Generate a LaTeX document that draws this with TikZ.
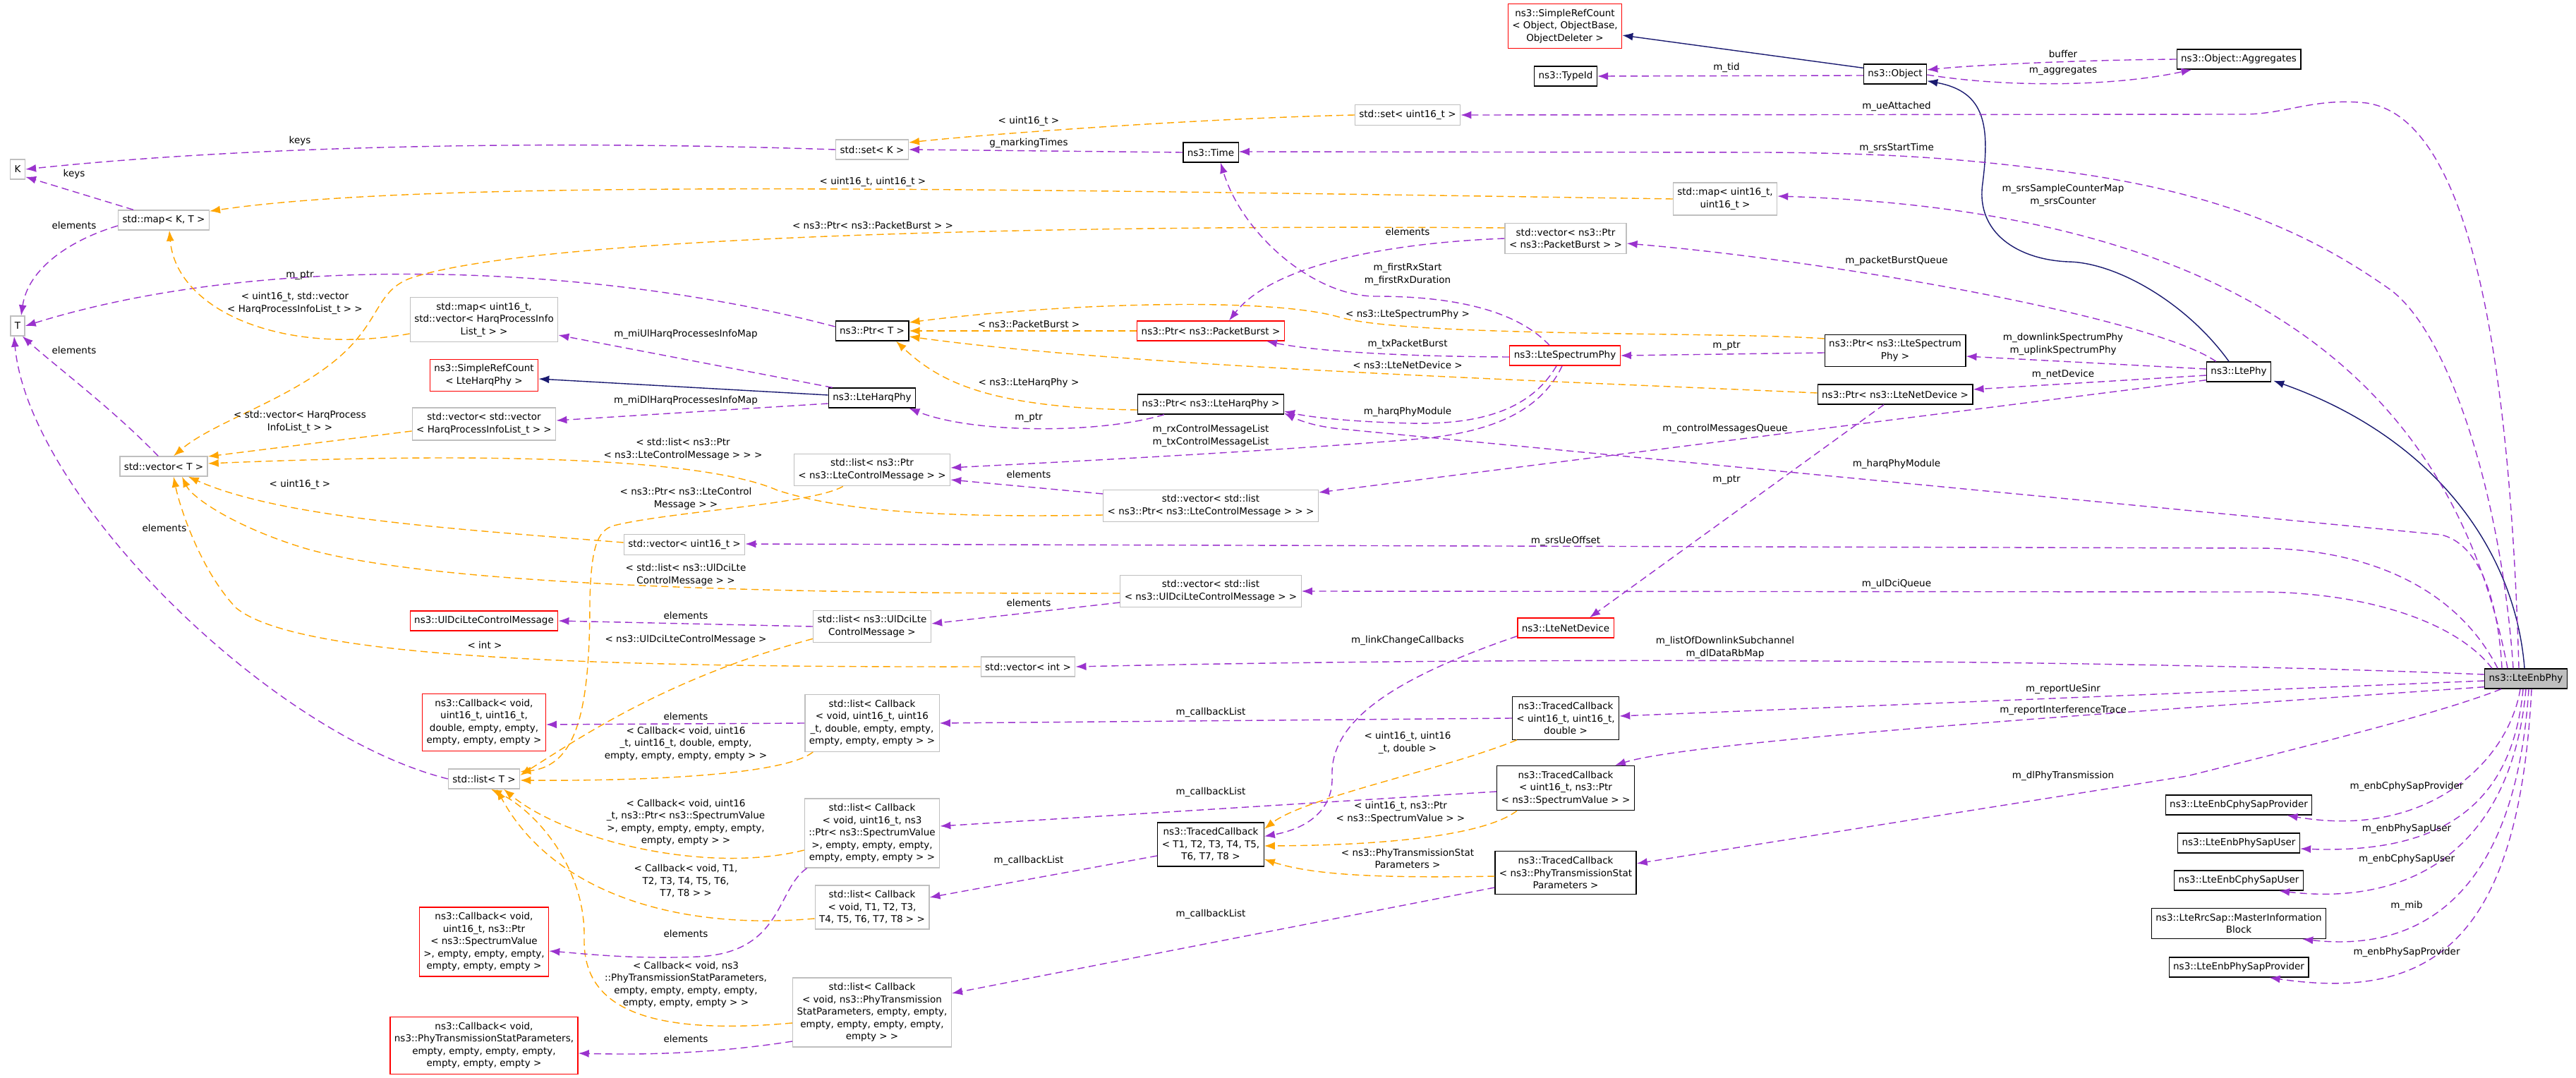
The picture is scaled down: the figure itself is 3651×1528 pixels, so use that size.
\documentclass[tikz,border=0pt]{standalone}
\usepackage{fontspec}
\setmainfont{DejaVu Sans}
\usetikzlibrary{arrows.meta,calc}
\definecolor{usecol}{HTML}{9A32CD}
\definecolor{tmplcol}{HTML}{FFA500}
\definecolor{inhcol}{HTML}{191970}
\definecolor{graycol}{HTML}{BFBFBF}
\definecolor{redcol}{HTML}{FF0000}

\tikzset{
  cls/.style={draw,line width=1.3pt,inner xsep=6pt,inner ysep=7.5pt,minimum height=28pt,
    align=center,font=\fontsize{13.5}{17.5}\selectfont},
  grayc/.style={cls,draw=graycol},
  blackc/.style={cls,draw=black},
  redc/.style={cls,draw=redcol},
  mainc/.style={cls,draw=black,fill=graycol},
  lbl/.style={inner sep=0pt,align=center,font=\fontsize{13.5}{17.5}\selectfont},
  usage/.style={draw=usecol,line width=1.4pt,dash pattern=on 10pt off 6pt,
    -{Latex[length=15pt,width=11pt]}},
  tmpl/.style={draw=tmplcol,line width=1.4pt,dash pattern=on 10pt off 6pt,
    -{Latex[length=15pt,width=11pt]}},
  inherit/.style={draw=inhcol,line width=1.4pt,-{Latex[length=15pt,width=11pt]}}
}

\begin{document}
\begin{tikzpicture}[x=1pt,y=-1pt]
\useasboundingbox (0,0) rectangle (3651,1528);

\node[grayc] (K) at (25,240) {K};
\node[grayc] (mapKT) at (232,312) {std::map< K, T >};
\node[grayc] (T) at (25,462) {T};
\node[grayc] (setK) at (1236,212) {std::set< K >};
\node[blackc] (ptrT) at (1236,469) {ns3::Ptr< T >};
\node[redc] (refObj) at (2218,37) {ns3::SimpleRefCount\\< Object, ObjectBase,\\ObjectDeleter >};
\node[blackc] (typeid) at (2219,108) {ns3::TypeId};
\node[grayc] (setU) at (1995,163) {std::set< uint16\_t >};
\node[blackc] (time) at (1716,216) {ns3::Time};
\node[grayc] (mapUU) at (2445,282) {std::map< uint16\_t,\\uint16\_t >};
\node[grayc] (vecPB) at (2219,338) {std::vector< ns3::Ptr\\< ns3::PacketBurst > >};
\node[redc] (ptrPB) at (1716,469) {ns3::Ptr< ns3::PacketBurst >};
\node[redc] (lsp) at (2218,504) {ns3::LteSpectrumPhy};
\node[blackc] (object) at (2686,105) {ns3::Object};
\node[blackc] (aggr) at (3173,84) {ns3::Object::Aggregates};
\node[blackc] (ptrLSP) at (2686,497) {ns3::Ptr< ns3::LteSpectrum\\Phy >};
\node[blackc] (ltephy) at (3173,527) {ns3::LtePhy};
\node[grayc] (mapUV) at (686,453) {std::map< uint16\_t,\\std::vector< HarqProcessInfo\\List\_t > >};
\node[redc] (refHarq) at (686,532) {ns3::SimpleRefCount\\< LteHarqPhy >};
\node[blackc] (harq) at (1236,564) {ns3::LteHarqPhy};
\node[grayc] (vecVH) at (686,601) {std::vector< std::vector\\< HarqProcessInfoList\_t > >};
\node[grayc] (vecT) at (232,661) {std::vector< T >};
\node[grayc] (vecU) at (970,772) {std::vector< uint16\_t >};
\node[redc] (uldci) at (686,880) {ns3::UlDciLteControlMessage};
\node[redc] (cbD) at (686,1024) {ns3::Callback< void,\\uint16\_t, uint16\_t,\\double, empty, empty,\\empty, empty, empty >};
\node[blackc] (ptrHarq) at (1716,573) {ns3::Ptr< ns3::LteHarqPhy >};
\node[grayc] (listLCM) at (1236,666) {std::list< ns3::Ptr\\< ns3::LteControlMessage > >};
\node[grayc] (vecLCM) at (1716,717) {std::vector< std::list\\< ns3::Ptr< ns3::LteControlMessage > > >};
\node[grayc] (vecUD) at (1716,838) {std::vector< std::list\\< ns3::UlDciLteControlMessage > >};
\node[grayc] (listUD) at (1236,888) {std::list< ns3::UlDciLte\\ControlMessage >};
\node[grayc] (vecInt) at (1457,945) {std::vector< int >};
\node[redc] (netdev) at (2219,890) {ns3::LteNetDevice};
\node[blackc] (ptrND) at (2686,559) {ns3::Ptr< ns3::LteNetDevice >};
\node[mainc] (enbphy) at (3580,962) {ns3::LteEnbPhy};
\node[grayc] (listT) at (686,1104) {std::list< T >};
\node[redc] (cbSV) at (686,1335) {ns3::Callback< void,\\uint16\_t, ns3::Ptr\\< ns3::SpectrumValue\\>, empty, empty, empty,\\empty, empty, empty >};
\node[redc] (cbPT) at (686,1482) {ns3::Callback< void,\\ns3::PhyTransmissionStatParameters,\\empty, empty, empty, empty,\\empty, empty, empty >};
\node[grayc] (lcbD) at (1236,1025) {std::list< Callback\\< void, uint16\_t, uint16\\\_t, double, empty, empty,\\empty, empty, empty > >};
\node[grayc] (lcbSV) at (1236,1181) {std::list< Callback\\< void, uint16\_t, ns3\\::Ptr< ns3::SpectrumValue\\>, empty, empty, empty,\\empty, empty, empty > >};
\node[grayc] (lcbT) at (1236,1286) {std::list< Callback\\< void, T1, T2, T3,\\T4, T5, T6, T7, T8 > >};
\node[grayc] (lcbPT) at (1236,1435) {std::list< Callback\\< void, ns3::PhyTransmission\\StatParameters, empty, empty,\\empty, empty, empty, empty,\\empty > >};
\node[blackc] (tcbT) at (1716,1197) {ns3::TracedCallback\\< T1, T2, T3, T4, T5,\\T6, T7, T8 >};
\node[blackc] (tcbD) at (2219,1018) {ns3::TracedCallback\\< uint16\_t, uint16\_t,\\double >};
\node[blackc] (tcbSV) at (2219,1117) {ns3::TracedCallback\\< uint16\_t, ns3::Ptr\\< ns3::SpectrumValue > >};
\node[blackc] (tcbPT) at (2219,1237) {ns3::TracedCallback\\< ns3::PhyTransmissionStat\\Parameters >};
\node[blackc] (cphyP) at (3173,1141) {ns3::LteEnbCphySapProvider};
\node[blackc] (phyU) at (3173,1195) {ns3::LteEnbPhySapUser};
\node[blackc] (cphyU) at (3173,1248) {ns3::LteEnbCphySapUser};
\node[blackc] (mib) at (3173,1309) {ns3::LteRrcSap::MasterInformation\\Block};
\node[blackc] (phyP) at (3173,1371) {ns3::LteEnbPhySapProvider};

\draw[usage] (setK.west) .. controls (700,196) and (300,212) .. (K.east) node[lbl] (l1) at (425,200) {keys};
\draw[usage] ($(mapKT.north west)+(22,0)$) -- ($(K.south east)+(0,-4)$) node[lbl] (l2) at (105,247) {keys};
\draw[usage] ($(mapKT.west)+(0,8)$) .. controls (100,340) and (40,380) .. ($(T.north)+(5,0)$) node[lbl] (l3) at (105,319) {elements};
\draw[usage] ($(vecT.north west)+(55,0)$) .. controls (160,580) and (80,520) .. ($(T.south east)+(-4,0)$) node[lbl] (l4) at (105,496) {elements};
\draw[usage] (listT.west) .. controls (380,1040) and (40,700) .. ($(T.south)+(-5,0)$) node[lbl] (l5) at (233,748) {elements};
\draw[usage] ($(ptrT.west)+(0,-6)$) .. controls (850,375) and (380,355) .. (T.east) node[lbl] (l6) at (425,390) {m\_ptr};
\draw[tmpl] (setU.west) .. controls (1700,168) and (1400,190) .. ($(setK.east)+(0,-10)$) node[lbl] (l7) at (1458,172) {< uint16\_t >};
\draw[usage] (time.west) -- (setK.east) node[lbl] (l8) at (1458,203) {g\_markingTimes};
\draw[tmpl] (mapUU.west) .. controls (1300,266) and (600,255) .. ($(mapKT.north east)+(0,2)$) node[lbl] (l9) at (1237,258) {< uint16\_t, uint16\_t >};
\draw[tmpl] ($(mapUV.west)+(0,20)$) .. controls (400,505) and (250,440) .. ($(mapKT.south)+(8,0)$) node[lbl] (l10) at (418,430) {< uint16\_t, std::vector\\< HarqProcessInfoList\_t > >};
\draw[tmpl] ($(vecPB.west)+(0,-15)$) .. controls (1500,318) and (750,335) .. (580,395) .. controls (530,415) and (540,460) .. (470,515) .. controls (400,570) and (300,600) .. ($(vecT.north)+(14,0)$) node[lbl] (l11) at (1237,319) {< ns3::Ptr< ns3::PacketBurst > >};
\draw[tmpl] ($(vecVH.west)+(0,10)$) -- ($(vecT.east)+(0,-14)$) node[lbl] (l12) at (425,598) {< std::vector< HarqProcess\\InfoList\_t > >};
\draw[tmpl] ($(vecLCM.west)+(0,13)$) .. controls (1300,735) and (1180,720) .. (1102,695) .. controls (1000,650) and (700,640) .. ($(vecT.east)+(0,-4)$) node[lbl] (l13) at (968,637) {< std::list< ns3::Ptr\\< ns3::LteControlMessage > > >};
\draw[tmpl] ($(vecU.west)+(0,-3)$) .. controls (650,750) and (400,735) .. ($(vecT.south east)+(-28,0)$) node[lbl] (l14) at (425,687) {< uint16\_t >};
\draw[tmpl] ($(vecUD.west)+(0,3)$) .. controls (1100,842) and (600,830) .. (425,775) .. controls (330,745) and (272,705) .. ($(vecT.south)+(26,0)$) node[lbl] (l15) at (972,815) {< std::list< ns3::UlDciLte\\ControlMessage > >};
\draw[tmpl] (vecInt.west) .. controls (800,946) and (420,930) .. (335,862) .. controls (285,810) and (255,720) .. ($(vecT.south)+(14,0)$) node[lbl] (l16) at (687,914) {< int >};
\draw[tmpl] ($(listLCM.south west)+(70,0)$) .. controls (1150,715) and (950,725) .. (870,745) .. controls (845,752) and (838,780) .. (836,850) .. controls (836,1000) and (820,1085) .. ($(listT.east)+(0,-10)$) node[lbl] (l17) at (972,707) {< ns3::Ptr< ns3::LteControl\\Message > >};
\draw[tmpl] ($(listUD.south west)+(0,-6)$) .. controls (950,960) and (830,1040) .. ($(listT.east)+(0,-5)$) node[lbl] (l18) at (972,907) {< ns3::UlDciLteControlMessage >};
\draw[tmpl] ($(lcbD.south west)+(12,0)$) .. controls (1110,1100) and (900,1107) .. ($(listT.east)+(0,2)$) node[lbl] (l19) at (972,1054) {< Callback< void, uint16\\\_t, uint16\_t, double, empty,\\empty, empty, empty, empty > >};
\draw[tmpl] ($(lcbSV.west)+(0,24)$) .. controls (1000,1240) and (800,1190) .. ($(listT.south)+(28,0)$) node[lbl] (l20) at (972,1166) {< Callback< void, uint16\\\_t, ns3::Ptr< ns3::SpectrumValue\\>, empty, empty, empty, empty,\\empty, empty > >};
\draw[tmpl] ($(lcbT.west)+(0,16)$) .. controls (950,1320) and (780,1260) .. ($(listT.south)+(18,0)$) node[lbl] (l21) at (972,1249) {< Callback< void, T1,\\T2, T3, T4, T5, T6,\\T7, T8 > >};
\draw[tmpl] ($(lcbPT.west)+(0,15)$) .. controls (900,1470) and (826,1420) .. (828,1330) .. controls (830,1230) and (760,1150) .. ($(listT.south)+(10,0)$) node[lbl] (l22) at (972,1396) {< Callback< void, ns3\\::PhyTransmissionStatParameters,\\empty, empty, empty, empty,\\empty, empty, empty > >};
\draw[usage] ($(vecUD.west)+(0,16)$) -- ($(listUD.east)+(0,-4)$) node[lbl] (l23) at (1458,854) {elements};
\draw[usage] (listUD.west) -- (uldci.east) node[lbl] (l24) at (972,872) {elements};
\draw[usage] (lcbD.west) -- ($(cbD.east)+(0,3)$) node[lbl] (l25) at (972,1015) {elements};
\draw[usage] ($(lcbSV.south west)+(4,0)$) .. controls (1100,1260) and (1110,1350) .. (990,1356) .. controls (900,1360) and (830,1352) .. ($(cbSV.east)+(0,13)$) node[lbl] (l26) at (972,1323) {elements};
\draw[usage] ($(lcbPT.west)+(0,41)$) .. controls (1000,1495) and (900,1495) .. ($(cbPT.east)+(0,11)$) node[lbl] (l27) at (972,1472) {elements};
\draw[usage] ($(vecLCM.west)+(0,-17)$) -- ($(listLCM.east)+(0,14)$) node[lbl] (l28) at (1458,672) {elements};
\draw[tmpl] (ptrPB.west) -- (ptrT.east) node[lbl] (l29) at (1458,459) {< ns3::PacketBurst >};
\draw[tmpl] ($(ptrLSP.west)+(0,-17)$) .. controls (2450,470) and (2000,478) .. (1900,450) .. controls (1800,420) and (1500,430) .. ($(ptrT.east)+(0,-12)$) node[lbl] (l30) at (1995,446) {< ns3::LteSpectrumPhy >};
\draw[tmpl] ($(ptrND.west)+(0,-2)$) .. controls (2200,540) and (1600,520) .. ($(ptrT.east)+(0,8)$) node[lbl] (l31) at (1995,517) {< ns3::LteNetDevice >};
\draw[tmpl] ($(ptrHarq.west)+(0,8)$) .. controls (1400,578) and (1330,540) .. ($(ptrT.south)+(34,0)$) node[lbl] (l32) at (1458,543) {< ns3::LteHarqPhy >};
\draw[usage] ($(ptrHarq.south west)+(38,0)$) .. controls (1560,615) and (1380,615) .. ($(harq.south east)+(-10,0)$) node[lbl] (l33) at (1458,592) {m\_ptr};
\draw[inherit] ($(harq.west)+(0,-4)$) -- ($(refHarq.east)+(0,5)$);
\draw[usage] ($(harq.north west)+(6,0)$) -- ($(mapUV.east)+(0,22)$) node[lbl] (l35) at (972,474) {m\_miUlHarqProcessesInfoMap};
\draw[usage] ($(harq.west)+(0,8)$) -- ($(vecVH.east)+(0,-5)$) node[lbl] (l36) at (972,568) {m\_miDlHarqProcessesInfoMap};
\draw[usage] (vecPB.west) .. controls (1950,345) and (1800,380) .. ($(ptrPB.north)+(26,0)$) node[lbl] (l37) at (1995,328) {elements};
\draw[usage] ($(lsp.north)+(-22,0)$) .. controls (2140,430) and (2030,420) .. (1950,420) .. controls (1860,420) and (1760,330) .. ($(time.south)+(14,0)$) node[lbl] (l38) at (1995,389) {m\_firstRxStart\\m\_firstRxDuration};
\draw[usage] ($(lsp.west)+(0,2)$) .. controls (1950,505) and (1850,495) .. ($(ptrPB.south east)+(-26,0)$) node[lbl] (l39) at (1995,488) {m\_txPacketBurst};
\draw[usage] ($(lsp.south)+(-12,0)$) .. controls (2170,580) and (2100,602) .. (2000,600) .. controls (1920,598) and (1860,592) .. ($(ptrHarq.east)+(0,10)$) node[lbl] (l40) at (1995,584) {m\_harqPhyModule};
\draw[usage] ($(lsp.south)+(-4,0)$) .. controls (2185,580) and (2120,612) .. (2012,622) .. controls (1800,640) and (1500,655) .. ($(listLCM.east)+(0,-3)$) node[lbl] (l41) at (1716,618) {m\_rxControlMessageList\\m\_txControlMessageList};
\draw[usage] ($(ptrND.south)+(-16,0)$) -- ($(netdev.north)+(34,0)$) node[lbl] (l42) at (2447,680) {m\_ptr};
\draw[usage] ($(netdev.south west)+(0,-3)$) .. controls (1980,960) and (1885,1020) .. (1888,1100) .. controls (1890,1150) and (1850,1175) .. ($(tcbT.north east)+(0,20)$) node[lbl] (l43) at (1995,908) {m\_linkChangeCallbacks};
\draw[usage] ($(ptrLSP.west)+(0,3)$) -- (lsp.east) node[lbl] (l44) at (2447,490) {m\_ptr};
\draw[usage] (tcbD.west) -- (lcbD.east) node[lbl] (l45) at (1716,1010) {m\_callbackList};
\draw[usage] ($(tcbSV.west)+(0,5)$) -- ($(lcbSV.east)+(0,-10)$) node[lbl] (l46) at (1716,1123) {m\_callbackList};
\draw[usage] ($(tcbT.west)+(0,16)$) -- ($(lcbT.east)+(0,-14)$) node[lbl] (l47) at (1458,1220) {m\_callbackList};
\draw[usage] ($(tcbPT.west)+(0,21)$) -- ($(lcbPT.east)+(0,-27)$) node[lbl] (l48) at (1716,1296) {m\_callbackList};
\draw[tmpl] ($(tcbD.south west)+(7,0)$) .. controls (2050,1090) and (1850,1130) .. ($(tcbT.east)+(0,-22)$) node[lbl] (l49) at (1995,1053) {< uint16\_t, uint16\\\_t, double >};
\draw[tmpl] ($(tcbSV.south)+(-69,0)$) .. controls (2110,1180) and (1990,1198) .. ($(tcbT.east)+(0,2)$) node[lbl] (l50) at (1985,1152) {< uint16\_t, ns3::Ptr\\< ns3::SpectrumValue > >};
\draw[tmpl] ($(tcbPT.west)+(0,5)$) .. controls (1950,1245) and (1860,1240) .. ($(tcbT.east)+(0,21)$) node[lbl] (l51) at (1995,1217) {< ns3::PhyTransmissionStat\\Parameters >};
\draw[inherit] ($(object.north west)+(0,6)$) -- ($(refObj.east)+(0,13)$);
\draw[usage] ($(object.west)+(0,2)$) -- (typeid.east) node[lbl] (l53) at (2447,96) {m\_tid};
\draw[usage] ($(object.east)+(0,1)$) .. controls (2850,125) and (3000,122) .. ($(aggr.south west)+(22,0)$) node[lbl] (l54) at (2924,100) {m\_aggregates};
\draw[usage] (aggr.west) .. controls (2950,85) and (2800,92) .. ($(object.east)+(0,-6)$) node[lbl] (l55) at (2924,76) {buffer};
\draw[inherit] ($(ltephy.north)+(-14,0)$) .. controls (3100,430) and (3000,372) .. (2931,371) .. controls (2860,368) and (2800,330) .. (2810,260) .. controls (2820,180) and (2815,130) .. ($(object.south east)+(0,-5)$);
\draw[usage] ($(ltephy.north west)+(14,0)$) .. controls (3050,450) and (2600,370) .. ($(vecPB.east)+(0,7)$) node[lbl] (l57) at (2688,370) {m\_packetBurstQueue};
\draw[usage] ($(ltephy.west)+(0,-4)$) -- ($(ptrLSP.east)+(0,8)$) node[lbl] (l58) at (2924,488) {m\_downlinkSpectrumPhy\\m\_uplinkSpectrumPhy};
\draw[usage] ($(ltephy.west)+(0,5)$) -- ($(ptrND.east)+(0,-7)$) node[lbl] (l59) at (2924,531) {m\_netDevice};
\draw[usage] ($(ltephy.south west)+(0,-3)$) -- ($(vecLCM.east)+(0,-19)$) node[lbl] (l60) at (2445,608) {m\_controlMessagesQueue};
\draw[inherit] ($(enbphy.north)+(-2,0)$) .. controls (3565,780) and (3450,620) .. ($(ltephy.south east)+(3,-2)$);
\draw[usage] ($(enbphy.north)+(-10,0)$) .. controls (3560,600) and (3520,170) .. (3354,146) .. controls (3280,138) and (3240,162) .. (3180,162) -- (setU.east) node[lbl] (l62) at (2688,151) {m\_ueAttached};
\draw[usage] ($(enbphy.north)+(-18,0)$) .. controls (3545,700) and (3470,470) .. (3387,410) .. controls (3280,335) and (3150,270) .. (2900,240) .. controls (2800,228) and (2700,217) .. (2500,216) -- ($(time.east)+(0,-1)$) node[lbl] (l63) at (2688,210) {m\_srsStartTime};
\draw[usage] ($(enbphy.north)+(-26,0)$) .. controls (3480,560) and (3200,300) .. ($(mapUU.east)+(0,-4)$) node[lbl] (l64) at (2924,277) {m\_srsSampleCounterMap\\m\_srsCounter};
\draw[usage] ($(enbphy.north)+(-34,0)$) .. controls (3540,840) and (3510,770) .. (3460,758) -- (1900,608) .. controls (1860,604) and (1840,595) .. ($(ptrHarq.south east)+(0,-2)$) node[lbl] (l65) at (2688,658) {m\_harqPhyModule};
\draw[usage] ($(enbphy.north)+(-40,0)$) .. controls (3480,830) and (3350,777) .. (3200,777) -- ($(vecU.east)+(0,-1)$) node[lbl] (l66) at (2219,767) {m\_srsUeOffset};
\draw[usage] ($(enbphy.north)+(-48,0)$) .. controls (3480,880) and (3350,839) .. (3200,839) -- (vecUD.east) node[lbl] (l67) at (2688,828) {m\_ulDciQueue};
\draw[usage] ($(enbphy.west)+(0,-6)$) .. controls (3000,935) and (2200,930) .. (vecInt.east) node[lbl] (l68) at (2445,918) {m\_listOfDownlinkSubchannel\\m\_dlDataRbMap};
\draw[usage] ($(enbphy.west)+(0,3)$) -- ($(tcbD.east)+(0,-3)$) node[lbl] (l69) at (2924,977) {m\_reportUeSinr};
\draw[usage] ($(enbphy.south west)+(0,-3)$) .. controls (3000,1010) and (2400,1050) .. ($(tcbSV.north east)+(-28,0)$) node[lbl] (l70) at (2924,1007) {m\_reportInterferenceTrace};
\draw[usage] ($(enbphy.south west)+(24,0)$) .. controls (3460,1010) and (3300,1050) .. (3100,1100) -- ($(tcbPT.east)+(0,-13)$) node[lbl] (l71) at (2924,1100) {m\_dlPhyTransmission};
\draw[usage] ($(enbphy.south)+(-8,0)$) .. controls (3555,1080) and (3440,1190) .. ($(cphyP.south east)+(-36,0)$) node[lbl] (l72) at (3411,1115) {m\_enbCphySapProvider};
\draw[usage] ($(enbphy.south)+(-4,0)$) .. controls (3560,1150) and (3450,1210) .. ($(phyU.east)+(0,8)$) node[lbl] (l73) at (3411,1175) {m\_enbPhySapUser};
\draw[usage] (enbphy.south) .. controls (3560,1200) and (3420,1285) .. ($(cphyU.south east)+(-35,0)$) node[lbl] (l74) at (3411,1218) {m\_enbCphySapUser};
\draw[usage] ($(enbphy.south)+(4,0)$) .. controls (3565,1270) and (3430,1350) .. ($(mib.south east)+(-34,0)$) node[lbl] (l75) at (3411,1284) {m\_mib};
\draw[usage] ($(enbphy.south)+(8,0)$) .. controls (3570,1330) and (3450,1420) .. ($(phyP.south east)+(-56,0)$) node[lbl] (l76) at (3411,1350) {m\_enbPhySapProvider};
\end{tikzpicture}
\end{document}
